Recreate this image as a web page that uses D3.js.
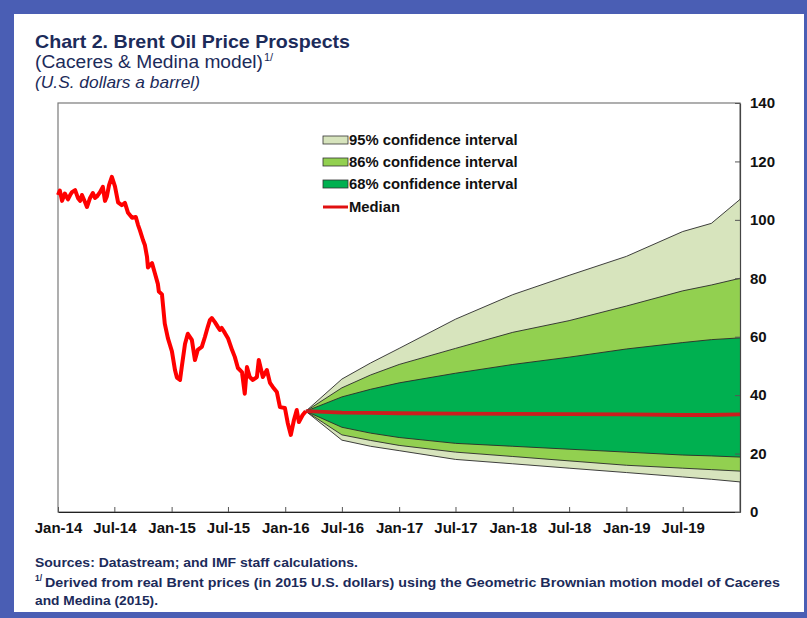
<!DOCTYPE html>
<html>
<head>
<meta charset="utf-8">
<script src="https://cdn.jsdelivr.net/npm/d3@7"></script>
<style>
  html, body { margin: 0; padding: 0; background: #4a5eb4; }
  svg { display: block; font-family: "Liberation Sans", Arial, sans-serif; }
</style>
</head>
<body>
<div id="container"></div>
<script>
// historical real Brent price (2015 US$)
const histDates = [
  "2014-01-01","2014-01-07","2014-01-14","2014-01-23","2014-02-02","2014-02-09","2014-02-15","2014-02-25",
  "2014-03-06","2014-03-13","2014-03-19","2014-03-29","2014-04-04","2014-04-14","2014-04-23","2014-04-30",
  "2014-05-06","2014-05-16","2014-05-25","2014-06-01","2014-06-07","2014-06-14","2014-06-23","2014-07-03",
  "2014-07-13","2014-07-25","2014-08-04","2014-08-14","2014-08-27","2014-09-08","2014-09-15","2014-09-21",
  "2014-10-01","2014-10-07","2014-10-14","2014-10-17","2014-10-23","2014-10-30","2014-11-08","2014-11-18",
  "2014-11-21","2014-12-01","2014-12-10","2014-12-20","2015-01-02","2015-01-12","2015-01-18","2015-01-28",
  "2015-02-03","2015-02-13","2015-02-22","2015-03-07","2015-03-17","2015-03-26","2015-04-08","2015-04-18",
  "2015-04-27","2015-05-04","2015-05-10","2015-05-20","2015-05-30","2015-06-05","2015-06-11","2015-06-21",
  "2015-07-01","2015-07-14","2015-07-23","2015-08-02","2015-08-15","2015-08-24","2015-08-31","2015-09-09",
  "2015-09-19","2015-10-02","2015-10-08","2015-10-21","2015-11-03","2015-11-13","2015-11-22","2015-12-05",
  "2015-12-15","2015-12-31","2016-01-09","2016-01-19","2016-01-29","2016-02-07","2016-02-14","2016-02-26",
  "2016-03-07"
];
const histValues = [
  108.5,110.0,106.5,109.0,107.0,108.5,109.5,110.2,
  107.5,106.5,108.5,106.0,104.4,107.5,109.2,107.5,
  108.0,109.5,111.3,106.5,108.0,111.9,114.7,111.5,
  106.0,105.0,105.8,102.4,100.7,101.0,98.3,96.5,
  93.1,91.4,87.3,83.7,84.5,85.2,81.8,78.0,
  75.5,74.5,64.5,59.5,55.0,48.5,46.0,45.2,
  50.0,57.5,61.0,58.9,52.0,55.5,56.5,59.9,
  63.3,65.7,66.4,65.0,63.3,62.3,63.0,61.3,
  59.5,55.5,53.1,49.3,47.9,40.5,49.6,46.2,
  45.2,46.2,52.0,46.2,48.6,44.2,42.8,41.1,
  35.9,35.6,30.5,26.4,31.5,34.9,30.8,33.2,
  34.5
];

// projection fan
const fcDates = ["2016-03-07","2016-07-01","2016-10-01","2017-01-01","2017-07-01","2018-01-01",
                 "2018-07-01","2019-01-01","2019-07-01","2019-10-01","2020-01-01"];
const median  = [34.5, 34.0, 33.9, 33.8, 33.7, 33.6, 33.5, 33.4, 33.2, 33.2, 33.4];
const upper68 = [34.5, 39.4, 42.0, 44.2, 47.5, 50.5, 53.0, 55.8, 58.0, 59.0, 59.6];
const lower68 = [34.5, 29.0, 27.0, 25.5, 23.5, 22.5, 21.5, 20.5, 19.5, 19.2, 18.8];
const upper86 = [34.5, 42.5, 46.9, 50.5, 56.0, 61.5, 65.5, 70.5, 75.7, 77.7, 80.0];
const lower86 = [34.5, 26.4, 24.5, 22.8, 20.5, 19.0, 17.5, 16.0, 15.0, 14.5, 14.0];
const upper95 = [34.5, 45.5, 51.0, 56.0, 66.0, 74.4, 81.0, 87.5, 96.0, 98.8, 107.0];
const lower95 = [34.5, 24.6, 22.5, 21.0, 18.0, 16.5, 15.0, 13.5, 12.0, 11.2, 10.3];

const yTicks = [0, 20, 40, 60, 80, 100, 120, 140];

const legendItems = [
  { label: "95% confidence interval", color: "#d7e4bd", kind: "box" },
  { label: "86% confidence interval", color: "#92d050", kind: "box" },
  { label: "68% confidence interval", color: "#00b050", kind: "box" },
  { label: "Median", color: "#e01010", kind: "line" }
];

const W = 807, H = 618;
const navy = "#1c2b5a";
const parse = d3.timeParse("%Y-%m-%d");

const svg = d3.select("#container").append("svg")
    .attr("width", W)
    .attr("height", H);

// white card inside blue frame
svg.append("rect")
    .attr("x", 14).attr("y", 14)
    .attr("width", 790).attr("height", 598)
    .attr("fill", "#ffffff");

// titles
svg.append("text")
    .attr("x", 35).attr("y", 48)
    .attr("fill", navy)
    .attr("textLength", 315)
    .attr("lengthAdjust", "spacingAndGlyphs")
    .style("font-size", "18.5px")
    .style("font-weight", "bold")
    .text("Chart 2. Brent Oil Price Prospects");

svg.append("text")
    .attr("x", 35).attr("y", 68)
    .attr("fill", navy)
    .attr("textLength", 228)
    .attr("lengthAdjust", "spacingAndGlyphs")
    .style("font-size", "17.5px")
    .text("(Caceres & Medina model)");
svg.append("text")
    .attr("x", 264).attr("y", 61)
    .attr("fill", navy)
    .style("font-size", "11px")
    .text("1/");

svg.append("text")
    .attr("x", 35).attr("y", 88)
    .attr("fill", navy)
    .attr("textLength", 165)
    .attr("lengthAdjust", "spacingAndGlyphs")
    .style("font-size", "16.5px")
    .style("font-style", "italic")
    .text("(U.S. dollars a barrel)");

// plot area
const plotL = 58, plotR = 740, plotT = 103, plotB = 512;

const x = d3.scaleTime()
    .domain([parse("2014-01-01"), parse("2020-01-01")])
    .range([plotL, plotR]);

const y = d3.scaleLinear()
    .domain([0, 140])
    .range([plotB, plotT]);

// frame
svg.append("rect")
    .attr("x", plotL).attr("y", plotT)
    .attr("width", plotR - plotL).attr("height", plotB - plotT)
    .attr("fill", "none")
    .attr("stroke", "#7a7a7a")
    .attr("stroke-width", 1.2);

// fan areas
const fc = fcDates.map((d, i) => ({
    date: parse(d),
    m: median[i],
    u68: upper68[i], l68: lower68[i],
    u86: upper86[i], l86: lower86[i],
    u95: upper95[i], l95: lower95[i]
}));

const bands = [
    { up: "u95", lo: "l95", color: "#d7e4bd" },
    { up: "u86", lo: "l86", color: "#92d050" },
    { up: "u68", lo: "l68", color: "#00b050" }
];

bands.forEach(b => {
    svg.append("path")
        .datum(fc)
        .attr("fill", b.color)
        .attr("d", d3.area()
            .x(d => x(d.date))
            .y0(d => y(d[b.lo]))
            .y1(d => y(d[b.up])));
});

["u95", "l95", "u86", "l86", "u68", "l68"].forEach(k => {
    svg.append("path")
        .datum(fc)
        .attr("fill", "none")
        .attr("stroke", "#2a2a2a")
        .attr("stroke-width", 0.9)
        .attr("d", d3.line().x(d => x(d.date)).y(d => y(d[k])));
});

svg.append("path")
    .datum(fc)
    .attr("fill", "none")
    .attr("stroke", "#cc1d1d")
    .attr("stroke-width", 3.8)
    .attr("d", d3.line().x(d => x(d.date)).y(d => y(d.m)));

// history
const hist = histDates.map((d, i) => ({ date: parse(d), v: histValues[i] }));
svg.append("path")
    .datum(hist)
    .attr("fill", "none")
    .attr("stroke", "#ff0000")
    .attr("stroke-width", 4)
    .attr("stroke-linejoin", "round")
    .attr("d", d3.line().x(d => x(d.date)).y(d => y(d.v)));

// axes
const xTickDates = d3.timeMonth.every(6).range(parse("2014-01-01"), parse("2019-12-31"));

const xAxis = svg.append("g")
    .attr("transform", `translate(0,${plotB})`)
    .call(d3.axisBottom(x)
        .tickValues(xTickDates)
        .tickFormat(d3.timeFormat("%b-%y"))
        .tickSize(-5)
        .tickPadding(10)
        .tickSizeOuter(0));
xAxis.select(".domain").attr("stroke", "#222").attr("stroke-width", 1.2);
xAxis.selectAll(".tick line").attr("stroke", "#555");
xAxis.selectAll("text")
    .attr("fill", "#111")
    .style("font-size", "15px")
    .style("font-weight", "bold");

const yAxis = svg.append("g")
    .attr("transform", `translate(${plotR},0)`)
    .call(d3.axisRight(y)
        .tickValues(yTicks)
        .tickSize(-5)
        .tickPadding(10)
        .tickSizeOuter(0));
yAxis.select(".domain").attr("stroke", "#444").attr("stroke-width", 1.2);
yAxis.selectAll(".tick line").attr("stroke", "#555");
yAxis.selectAll("text")
    .attr("fill", "#111")
    .style("font-size", "15px")
    .style("font-weight", "bold");

// legend
const legend = svg.append("g").attr("transform", "translate(323,140)");
legendItems.forEach((item, i) => {
    const g = legend.append("g").attr("transform", `translate(0,${i === 3 ? 67 : i * 22})`);
    if (item.kind === "box") {
        g.append("rect")
            .attr("x", 0).attr("y", -4)
            .attr("width", 25).attr("height", 8)
            .attr("fill", item.color)
            .attr("stroke", "#333")
            .attr("stroke-width", 0.8);
    } else {
        g.append("line")
            .attr("x1", 0).attr("x2", 25)
            .attr("stroke", item.color)
            .attr("stroke-width", 3);
    }
    g.append("text")
        .attr("x", 26).attr("dy", "0.36em")
        .attr("fill", "#111")
        .style("font-size", "14.8px")
        .style("font-weight", "bold")
        .text(item.label);
});

// notes
svg.append("text")
    .attr("x", 35).attr("y", 567)
    .attr("fill", navy)
    .attr("textLength", 323)
    .attr("lengthAdjust", "spacingAndGlyphs")
    .style("font-size", "13px")
    .style("font-weight", "bold")
    .text("Sources: Datastream;  and IMF staff calculations.");

svg.append("text")
    .attr("x", 35).attr("y", 581)
    .attr("fill", navy)
    .style("font-size", "8.5px")
    .style("font-weight", "bold")
    .text("1/");

svg.append("text")
    .attr("x", 45).attr("y", 587)
    .attr("fill", navy)
    .attr("textLength", 735)
    .attr("lengthAdjust", "spacingAndGlyphs")
    .style("font-size", "13px")
    .style("font-weight", "bold")
    .text("Derived from  real Brent prices (in 2015 U.S. dollars) using the Geometric Brownian motion model of Caceres");

svg.append("text")
    .attr("x", 35).attr("y", 605)
    .attr("fill", navy)
    .attr("textLength", 123)
    .attr("lengthAdjust", "spacingAndGlyphs")
    .style("font-size", "13px")
    .style("font-weight", "bold")
    .text("and Medina (2015).");
</script>
</body>
</html>
